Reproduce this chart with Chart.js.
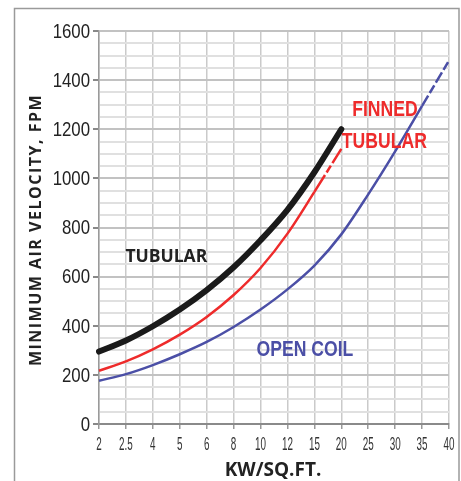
<!DOCTYPE html>
<html>
<head>
<meta charset="utf-8">
<script src="https://cdn.jsdelivr.net/npm/chart.js@4"></script>
<style>
  body { margin: 0; background: #fff; }
</style>
</head>
<body>
<canvas id="chart" width="461" height="481"></canvas>
<script>
// kW per sq.ft. categories (equally spaced on the chart)
var kwLabels = ['2', '2.5', '4', '5', '6', '8', '10', '12', '15', '20', '25', '30', '35', '40'];

// minimum air velocity, FPM
var tubular = [295, 340, 398, 466, 545, 638, 748, 872, 1025, 1200];
var finnedTubular = [217, 255, 304, 364, 436, 525, 635, 775, 945, 1120];
var openCoil = [176, 203, 240, 284, 334, 395, 466, 548, 645, 772, 935, 1110, 1295, 1480];

var yTicks = [0, 200, 400, 600, 800, 1000, 1200, 1400, 1600];

function lastSegmentDash(data, pattern) {
    return function(ctx) {
        return ctx.p1DataIndex === data.length - 1 ? pattern : undefined;
    };
}

// squeezed text, the picture uses a narrow face
function narrowText(c, txt, x, y, sx) {
    c.save();
    c.translate(x, y);
    c.scale(sx, 1);
    c.fillText(txt, 0, 0);
    c.restore();
}

var extras = {
    id: 'extras',
    beforeDraw: function(chart) {
        var c = chart.ctx;
        c.save();
        c.fillStyle = '#fff';
        c.fillRect(0, 0, chart.width, chart.height);
        c.strokeStyle = '#9a9a9a';
        c.lineWidth = 1.5;
        c.strokeRect(14.5, 8.5, 444.5, 480);
        c.restore();
    },
    afterDraw: function(chart) {
        var c = chart.ctx,
            x = chart.scales.x,
            y = chart.scales.y;
        c.save();
        c.textBaseline = 'middle';

        // y tick labels
        c.fillStyle = '#222';
        c.font = '21px "Liberation Sans", Arial, sans-serif';
        c.textAlign = 'right';
        yTicks.forEach(function(v) {
            narrowText(c, String(v), 90, y.getPixelForValue(v) + 1, 0.8);
        });

        // x tick labels
        c.fillStyle = '#333';
        c.font = '19px "Liberation Sans", Arial, sans-serif';
        c.textAlign = 'center';
        kwLabels.forEach(function(lbl, i) {
            narrowText(c, lbl, x.getPixelForTick(i), 445, 0.52);
        });

        // axis titles
        c.fillStyle = '#222';
        c.font = 'bold 19px "Open Sans", sans-serif';
        c.fillText('KW/SQ.FT.', 273, 471);
        c.save();
        c.translate(36, 230);
        c.rotate(-Math.PI / 2);
        c.font = 'bold 16px "Open Sans", sans-serif';
        c.letterSpacing = '1.5px';
        c.fillText('MINIMUM AIR VELOCITY, FPM', 0, 0);
        c.restore();

        // series labels
        c.fillStyle = '#222';
        c.font = 'bold 17.5px "Open Sans", sans-serif';
        c.fillText('TUBULAR', x.getPixelForValue(2.5), y.getPixelForValue(681));

        c.fillStyle = '#ee2b2b';
        c.font = 'bold 22px "Liberation Sans", Arial, sans-serif';
        narrowText(c, 'FINNED', x.getPixelForValue(10.62), y.getPixelForValue(1278), 0.8);
        narrowText(c, 'TUBULAR', x.getPixelForValue(10.6), y.getPixelForValue(1148), 0.8);

        c.fillStyle = '#4b4fa6';
        narrowText(c, 'OPEN COIL', x.getPixelForValue(7.65), y.getPixelForValue(303), 0.8);
        c.restore();
    }
};

new Chart(document.getElementById('chart'), {
    type: 'line',
    data: {
        labels: kwLabels,
        datasets: [{
            label: 'Tubular',
            data: tubular,
            borderColor: '#1a1a1a',
            borderWidth: 6,
            borderCapStyle: 'round',
            pointRadius: 0,
            cubicInterpolationMode: 'monotone'
        }, {
            label: 'Finned Tubular',
            data: finnedTubular,
            borderColor: '#ee2b2b',
            borderWidth: 2.5,
            pointRadius: 0,
            cubicInterpolationMode: 'monotone',
            segment: {
                borderDash: lastSegmentDash(finnedTubular, [20, 3, 8, 3])
            }
        }, {
            label: 'Open Coil',
            data: openCoil,
            borderColor: '#4b4fa6',
            borderWidth: 2.5,
            pointRadius: 0,
            cubicInterpolationMode: 'monotone',
            segment: {
                borderDash: lastSegmentDash(openCoil, [12, 3, 9, 3])
            }
        }]
    },
    options: {
        responsive: false,
        animation: false,
        layout: {
            padding: { left: 0, top: 31, right: 12, bottom: 0 }
        },
        plugins: {
            legend: { display: false },
            tooltip: { enabled: false }
        },
        scales: {
            x: {
                offset: false,
                grid: {
                    color: '#cacaca',
                    lineWidth: 1.5,
                    tickLength: 5,
                    tickColor: '#999'
                },
                border: { color: '#8a8a8a', width: 2 },
                ticks: { display: false },
                afterFit: function(scale) { scale.height = 57; }
            },
            y: {
                min: 0,
                max: 1600,
                grid: {
                    color: function(ctx) {
                        return ctx.tick && yTicks.indexOf(ctx.tick.value) >= 0 ? '#c2c2c2' : '#e0e0e0';
                    },
                    lineWidth: 2,
                    tickLength: 6,
                    tickColor: function(ctx) {
                        return ctx.tick && yTicks.indexOf(ctx.tick.value) >= 0 ? '#888' : 'rgba(0,0,0,0)';
                    }
                },
                border: { color: '#9a9a9a', width: 1.5 },
                ticks: {
                    stepSize: 50,
                    autoSkip: false,
                    display: false
                },
                afterFit: function(scale) { scale.width = 99; }
            }
        }
    },
    plugins: [extras]
});
</script>
</body>
</html>
